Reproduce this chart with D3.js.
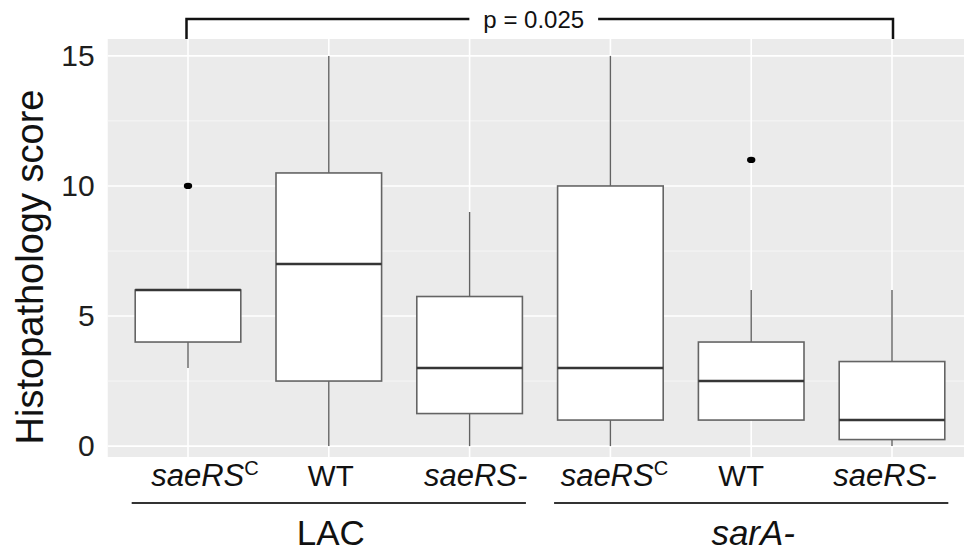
<!DOCTYPE html>
<html>
<head>
<meta charset="utf-8">
<script src="https://cdn.jsdelivr.net/npm/d3@7"></script>
<style>
  html, body { margin: 0; padding: 0; background: #ffffff; }
  svg { display: block; font-family: "Liberation Sans", Arial, Helvetica, sans-serif; }
</style>
</head>
<body>
<svg id="chart" width="964" height="551"></svg>
<script>
// ---------------- data ----------------
const ids        = ["LAC_saeRSC", "LAC_WT", "LAC_saeRS-", "sarA_saeRSC", "sarA_WT", "sarA_saeRS-"];
const strainMain = ["saeRS", "WT", "saeRS-", "saeRS", "WT", "saeRS-"];
const strainSup  = ["C", "", "", "C", "", ""];
const strainItalic = [true, false, true, true, false, true];
const groupNames = ["LAC", "sarA-"];
const groupItalic = [false, true];
const groupMembers = [["LAC_saeRSC", "LAC_WT", "LAC_saeRS-"], ["sarA_saeRSC", "sarA_WT", "sarA_saeRS-"]];
const whiskerLow  = [3, 0, 0, 0, 1, 0];
const q1          = [4, 2.5, 1.25, 1, 1, 0.25];
const median      = [6, 7, 3, 3, 2.5, 1];
const q3          = [6, 10.5, 5.75, 10, 4, 3.25];
const whiskerHigh = [6, 15, 9, 15, 6, 6];
const outliers    = [[10], [], [], [], [11], []];
const yTicks      = [0, 5, 10, 15];
const yMinor      = [2.5, 7.5, 12.5];
const yTitle      = "Histopathology score";
const compareFrom = "LAC_saeRSC";
const compareTo   = "sarA_saeRS-";
const pLabel      = "p = 0.025";

// ---------------- layout ----------------
const svg = d3.select("#chart");
const panelTop = 39, panelBottom = 457;
const x = d3.scalePoint().domain(ids).range([188, 892]);
const step = x.step();
const panelLeft = x(ids[0]) - 0.57 * step;
const panelRight = x(ids[ids.length - 1]) + 0.57 * step;
const y = d3.scaleLinear().domain([-0.42, 15.65]).range([panelBottom, panelTop]);
const boxW = step * 0.75;

// panel background
svg.append("rect")
  .attr("x", panelLeft).attr("y", panelTop)
  .attr("width", panelRight - panelLeft).attr("height", panelBottom - panelTop)
  .attr("fill", "#EBEBEB");

// minor gridlines
svg.append("g").selectAll("line").data(yMinor).join("line")
  .attr("x1", panelLeft).attr("x2", panelRight)
  .attr("y1", d => y(d)).attr("y2", d => y(d))
  .attr("stroke", "#F6F6F6").attr("stroke-width", 1);

// major gridlines
svg.append("g").selectAll("line").data(yTicks).join("line")
  .attr("x1", panelLeft).attr("x2", panelRight)
  .attr("y1", d => y(d)).attr("y2", d => y(d))
  .attr("stroke", "#ffffff").attr("stroke-width", 1.6);
svg.append("g").selectAll("line").data(ids).join("line")
  .attr("x1", d => x(d)).attr("x2", d => x(d))
  .attr("y1", panelTop).attr("y2", panelBottom)
  .attr("stroke", "#ffffff").attr("stroke-width", 1.6);

// y axis
const yAxis = svg.append("g")
  .attr("transform", `translate(${panelLeft},0)`)
  .call(d3.axisLeft(y).tickValues(yTicks).tickSize(0).tickPadding(13));
yAxis.select(".domain").remove();
yAxis.selectAll("text")
  .attr("font-size", 30).attr("fill", "#1e1e1e")
  .attr("font-family", "'Liberation Sans', Arial, sans-serif");

// y title
svg.append("text")
  .attr("transform", "translate(43,267) rotate(-90)")
  .attr("text-anchor", "middle")
  .attr("font-size", 38)
  .attr("fill", "#111")
  .text(yTitle);

// boxes
const boxes = svg.append("g");
ids.forEach((id, i) => {
  const cx = x(id);
  const g = boxes.append("g");
  g.append("line")
    .attr("x1", cx).attr("x2", cx)
    .attr("y1", y(q3[i])).attr("y2", y(whiskerHigh[i]))
    .attr("stroke", "#626262").attr("stroke-width", 1.4);
  g.append("line")
    .attr("x1", cx).attr("x2", cx)
    .attr("y1", y(q1[i])).attr("y2", y(whiskerLow[i]))
    .attr("stroke", "#626262").attr("stroke-width", 1.4);
  g.append("rect")
    .attr("x", cx - boxW / 2).attr("y", y(q3[i]))
    .attr("width", boxW).attr("height", y(q1[i]) - y(q3[i]))
    .attr("fill", "#ffffff").attr("stroke", "#646464").attr("stroke-width", 1.6);
  g.append("line")
    .attr("x1", cx - boxW / 2).attr("x2", cx + boxW / 2)
    .attr("y1", y(median[i])).attr("y2", y(median[i]))
    .attr("stroke", "#363636").attr("stroke-width", 2.6);
  g.selectAll("ellipse").data(outliers[i]).join("ellipse")
    .attr("cx", cx).attr("cy", d => y(d))
    .attr("rx", 4.2).attr("ry", 3.1)
    .attr("fill", "#000");
});

// x labels (category)
const labelShift = [17, 2, 6, 4, -10, -7];
ids.forEach((id, i) => {
  const t = svg.append("text")
    .attr("x", x(id) + labelShift[i]).attr("y", 486)
    .attr("text-anchor", "middle")
    .attr("font-size", strainItalic[i] ? 31 : 29.5)
    .attr("fill", "#111");
  t.append("tspan")
    .attr("font-style", strainItalic[i] ? "italic" : "normal")
    .text(strainMain[i]);
  if (strainSup[i]) {
    t.append("tspan")
      .attr("font-size", 20)
      .attr("dy", -11)
      .text(strainSup[i]);
  }
});

// group lines and labels
groupNames.forEach((name, gi) => {
  const mem = groupMembers[gi];
  const x0 = x(mem[0]) - step * 0.4;
  const x1 = x(mem[mem.length - 1]) + step * 0.4;
  svg.append("line")
    .attr("x1", x0).attr("x2", x1)
    .attr("y1", 503).attr("y2", 503)
    .attr("stroke", "#333").attr("stroke-width", 2);
  svg.append("text")
    .attr("x", (x0 + x1) / 2 + 2).attr("y", 545)
    .attr("text-anchor", "middle")
    .attr("font-size", 35)
    .attr("font-style", groupItalic[gi] ? "italic" : "normal")
    .attr("fill", "#111")
    .text(name);
});

// significance bracket
const bx0 = x(compareFrom) - 1.5, bx1 = x(compareTo) + 1, by = 19;
svg.append("path")
  .attr("d", `M${bx0},${panelTop}V${by}H${bx1}V${panelTop}`)
  .attr("fill", "none").attr("stroke", "#111").attr("stroke-width", 2.5);
const pcx = (bx0 + bx1) / 2 - 6;
const gapRect = svg.append("rect").attr("fill", "#ffffff");
const pt = svg.append("text")
  .attr("x", pcx).attr("y", 28)
  .attr("text-anchor", "middle")
  .attr("font-size", 24)
  .attr("fill", "#111")
  .text(pLabel);
const bb = pt.node().getBBox();
gapRect
  .attr("x", bb.x - 14).attr("y", by - 4)
  .attr("width", bb.width + 28).attr("height", 8);
</script>
</body>
</html>
